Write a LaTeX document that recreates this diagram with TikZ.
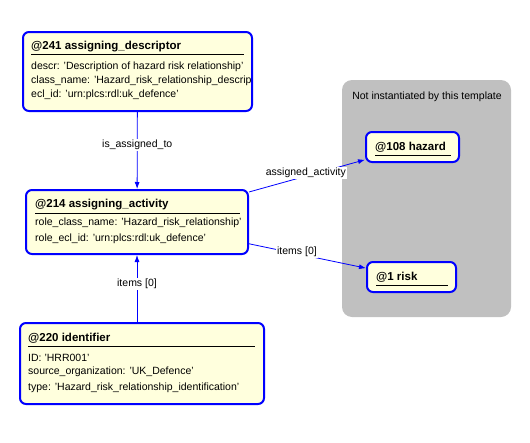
\documentclass[tikz,border=0pt]{standalone}
\usepackage{fontspec}
\setmainfont{Liberation Sans}
\usetikzlibrary{arrows.meta}
\definecolor{boxfill}{RGB}{255,255,221}
\definecolor{tmplgray}{RGB}{192,192,192}

\begin{document}
\begin{tikzpicture}[x=1pt,y=-1pt,
  inst/.style={draw=blue,line width=2pt,fill=boxfill,rounded corners=6pt,inner sep=0pt},
  ttl/.style={anchor=west,inner sep=0pt,font=\fontsize{11.5}{13}\selectfont\bfseries},
  attr/.style={anchor=west,inner sep=0pt,font=\fontsize{10.5}{12}\selectfont},
  rel/.style={draw=blue,line width=0.8pt,-{Latex[length=7pt,width=5pt]}},
  rlab/.style={fill=white,inner sep=1pt,font=\fontsize{10.5}{12}\selectfont}]
  \useasboundingbox (0,0) rectangle (530,442);

  % template area
  \fill[tmplgray,rounded corners=10pt] (342,80) rectangle (511,317);
  \node[attr,anchor=center] (tmpl) at (427,97) {Not instantiated by this template};

  % instances
  \node[inst,minimum width=229pt,minimum height=79pt] (desc) at (137.5,71.5) {};
  \node[inst,minimum width=222pt,minimum height=64pt] (act) at (137,222) {};
  \node[inst,minimum width=244pt,minimum height=81pt] (ident) at (142,363.5) {};
  \node[inst,minimum width=93pt,minimum height=30pt] (haz) at (412.5,147) {};
  \node[inst,minimum width=89pt,minimum height=30pt] (risk) at (411.5,277) {};

  \coordinate (D1) at (31,47);
  \coordinate (D2) at (31,67);
  \coordinate (D3) at (31,81);
  \coordinate (D4) at (31,95);
  \node[ttl] at (D1) {@241 assigning\_descriptor};
  \draw[line width=0.8pt] (31,54) -- (244,54);
  \node[attr] at (D2) {descr: 'Description of hazard risk relationship'};
  \node[attr] at (D3) {class\_name: 'Hazard\_risk\_relationship\_descrip};
  \node[attr] at (D4) {ecl\_id: 'urn:plcs:rdl:uk\_defence'};

  \coordinate (A1) at (35,205);
  \coordinate (A2) at (35,223);
  \coordinate (A3) at (35,239);
  \node[ttl] at (A1) {@214 assigning\_activity};
  \draw[line width=0.8pt] (35,213) -- (240,213);
  \node[attr] at (A2) {role\_class\_name: 'Hazard\_risk\_relationship'};
  \node[attr] at (A3) {role\_ecl\_id: 'urn:plcs:rdl:uk\_defence'};

  \coordinate (I1) at (28,338);
  \coordinate (I2) at (28,358);
  \coordinate (I3) at (28,372);
  \coordinate (I4) at (28,388);
  \node[ttl] at (I1) {@220 identifier};
  \draw[line width=0.8pt] (28,346) -- (255,346);
  \node[attr] at (I2) {ID: 'HRR001'};
  \node[attr] at (I3) {source\_organization: 'UK\_Defence'};
  \node[attr] at (I4) {type: 'Hazard\_risk\_relationship\_identification'};

  \node[ttl] at (375,147) {@108 hazard};
  \draw[line width=0.8pt] (375,155) -- (451,155);
  \node[ttl] at (376,277) {@1 risk};
  \draw[line width=0.8pt] (376,285) -- (448,285);

  % relations
  \draw[rel] (desc) -- node[rlab,pos=0.43] {is\_assigned\_to} (act);
  \draw[rel] (act.15.5) -- node[rlab,pos=0.49,yshift=3pt] {assigned\_activity} (haz.195);
  \draw[rel] (act.-11) -- node[rlab,pos=0.41,yshift=2pt] {items [0]} (risk.169);
  \draw[rel] (ident.north -| act.south) -- node[rlab,pos=0.57] {items [0]} (act.south);
\end{tikzpicture}
\end{document}
